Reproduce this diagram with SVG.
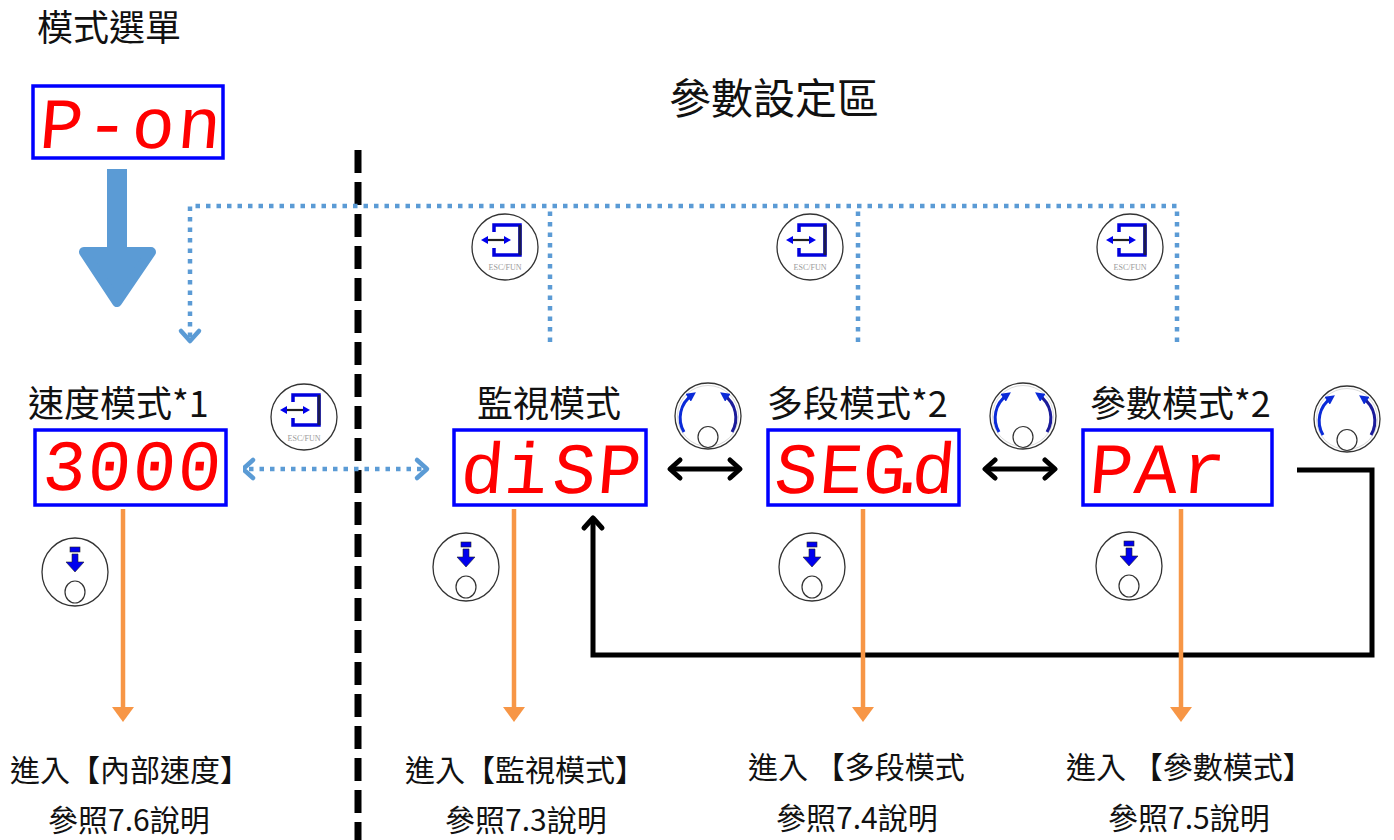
<svg xmlns="http://www.w3.org/2000/svg" width="1394" height="840" viewBox="0 0 1394 840">
<style>
.title{font-family:"Noto Sans CJK TC","Noto Sans CJK SC",sans-serif;fill:#111;}
.lbl{font-family:"Noto Sans CJK TC","Noto Sans CJK SC",sans-serif;font-size:36px;fill:#111;}
.bot{font-family:"Noto Sans CJK TC","Noto Sans CJK SC",sans-serif;font-size:30px;fill:#111;}
.seg{font-family:"Liberation Mono","DejaVu Sans Mono",monospace;font-size:72px;fill:#ff0000;}
.box{fill:#fff;stroke:#0000ff;stroke-width:3.5;}
.back{fill:#fff;}
.dot{fill:none;stroke:#5b9bd5;stroke-width:4.5;stroke-dasharray:4.5 6;}
.chev{fill:none;stroke:#5b9bd5;stroke-width:4.5;stroke-linecap:round;stroke-linejoin:round;}
.org{fill:none;stroke:#f79646;stroke-width:4.5;}
.orgh{fill:#f79646;}
.blk{fill:none;stroke:#000;stroke-width:5;}
.blkh{fill:none;stroke:#000;stroke-width:5;stroke-linecap:round;stroke-linejoin:round;}
.ring{fill:#fff;stroke:#333;stroke-width:1.3;}
.esct{font-family:"Liberation Serif",serif;font-size:8px;fill:#9a9a9a;}
</style>
<defs>
<marker id="bh" viewBox="0 0 10 10" refX="5" refY="5" markerWidth="3.2" markerHeight="3.2" orient="auto">
<path d="M0,0 L10,5 L0,10 Z" fill="#0a2ad8"/>
</marker>
<g id="knob">
<circle r="33" class="ring"/>
<circle r="30.5" fill="none" stroke="#c8c8c8" stroke-width="0.7"/>
<ellipse cy="21" rx="10" ry="10.5" fill="#fff" stroke="#333" stroke-width="1.2"/>
<path d="M-24,16 A28 28 0 0 1 -16,-21" fill="none" stroke="#0a2ad8" stroke-width="3" marker-end="url(#bh)"/>
<path d="M24,16 A28 28 0 0 0 16,-21" fill="none" stroke="#1b1b9a" stroke-width="3" marker-end="url(#bh)"/>
</g>
<g id="push">
<ellipse rx="33" ry="34" class="ring"/>
<rect x="-5" y="-25" width="10" height="5" fill="#0000ee" stroke="#222" stroke-width="0.6"/>
<path d="M-3,-18 H3 V-10 H9 L0,0 L-9,-10 H-3 Z" fill="#0000ee" stroke="#222" stroke-width="0.6"/>
<ellipse cy="20" rx="10" ry="11" fill="#fff" stroke="#333" stroke-width="1.2"/>
</g>
<g id="escgfx">
<circle r="33" class="ring"/>
<path d="M-11,-15 V-22 H15 V8 H-11 V1" fill="none" stroke="#0000dd" stroke-width="3.5"/>
<line x1="15" y1="-22" x2="15" y2="8" stroke="#1a1a50" stroke-width="3"/>
<line x1="-19" y1="-7" x2="1" y2="-7" stroke="#222" stroke-width="2.2"/>
<path d="M-24,-7 L-17,-11 L-17,-3 Z" fill="#0000ee"/>
<path d="M6,-7 L-1,-11 L-1,-3 Z" fill="#0000ee"/>
</g>
</defs>
<rect width="1394" height="840" fill="#fff"/>

<text class="title" x="37" y="41" font-size="36">模式選單</text>
<text class="title" x="669" y="114" font-size="42">參數設定區</text>

<!-- divider -->
<line x1="358" y1="150" x2="358" y2="840" stroke="#000" stroke-width="7" stroke-dasharray="23 9"/>

<g id="connectors">
<rect x="107" y="169" width="20" height="84" fill="#5b9bd5"/>
<polygon points="84,252 151,252 117,302" fill="#5b9bd5" stroke="#5b9bd5" stroke-width="10" stroke-linejoin="round"/>
<path class="dot" d="M1177,342 V206 H190 V338"/>
<path class="dot" d="M550,342 V206"/>
<path class="dot" d="M858,342 V206"/>
<path class="chev" d="M181,331 L190,341 L199,331"/>
<line class="dot" x1="249" y1="469" x2="424" y2="469"/>
<path class="chev" d="M253,460 L243,469 L253,478"/>
<path class="chev" d="M417,460 L427,469 L417,478"/>
<line class="blk" x1="671" y1="469" x2="739" y2="469"/>
<path class="blkh" d="M680,460 L670,469 L680,478 M730,460 L740,469 L730,478"/>
<line class="blk" x1="986" y1="469" x2="1054" y2="469"/>
<path class="blkh" d="M995,460 L985,469 L995,478 M1045,460 L1055,469 L1045,478"/>
<path class="blk" d="M1297,470 H1372 V655 H593 V520"/>
<path class="blkh" d="M584,528 L593,518 L602,528"/>
<line class="org" x1="123" y1="508" x2="123" y2="712"/>
<polygon class="orgh" points="112,707 134,707 123,722"/>
<line class="org" x1="514" y1="508" x2="514" y2="712"/>
<polygon class="orgh" points="503,707 525,707 514,722"/>
<line class="org" x1="863" y1="508" x2="863" y2="712"/>
<polygon class="orgh" points="852,707 874,707 863,722"/>
<line class="org" x1="1181" y1="508" x2="1181" y2="712"/>
<polygon class="orgh" points="1170,707 1192,707 1181,722"/>
</g>

<g id="node-pon">
<rect class="back" x="15" y="82" width="227" height="80"/>
<rect class="box" x="33" y="86" width="190" height="72"/>
<text class="seg" transform="translate(0,148) skewX(-5)" x="38 84 130 176" y="0" font-size="76">P-on</text>
</g>

<g id="node-speed">
<text class="lbl" x="28" y="417">速度模式*1</text>
<rect class="back" x="17" y="425" width="226" height="84"/>
<rect class="box" x="35" y="430" width="191" height="75"/>
<text class="seg" transform="translate(0,490) skewX(-5)" x="41 86 131 176" y="0">3000</text>
<use href="#push" x="75" y="572"/>
<text class="bot" x="10" y="781">進入【內部速度】</text>
<text class="bot" x="48" y="831">參照7.6說明</text>
</g>

<g id="node-esc-mid">
<use href="#escgfx" x="304" y="417"/>
<text class="esct" x="304" y="441" text-anchor="middle">ESC/FUN</text>
</g>

<g id="node-disp">
<text class="lbl" x="549" y="417" text-anchor="middle">監視模式</text>
<rect class="back" x="437" y="425" width="226" height="84"/>
<rect class="box" x="454" y="430" width="192" height="75"/>
<text class="seg" transform="translate(0,493) skewX(-5)" x="459 503 551 596" y="0">diSP</text>
<use href="#push" x="466" y="567"/>
<text class="bot" x="405" y="781">進入【監視模式】</text>
<text class="bot" x="445" y="831">參照7.3說明</text>
</g>

<g id="node-seg">
<text class="lbl" x="767" y="417">多段模式*2</text>
<rect class="back" x="750" y="425" width="226" height="84"/>
<rect class="box" x="768" y="430" width="191" height="75"/>
<text class="seg" transform="translate(0,493) skewX(-5)" x="773 818 861 885 910" y="0">SEG.d</text>
<use href="#push" x="812" y="567"/>
<text class="bot" x="748" y="778">進入 【多段模式</text>
<text class="bot" x="776" y="829">參照7.4說明</text>
</g>

<g id="node-par">
<text class="lbl" x="1090" y="417">參數模式*2</text>
<rect class="back" x="1065" y="425" width="226" height="84"/>
<rect class="box" x="1083" y="430" width="189" height="75"/>
<text class="seg" transform="translate(0,493) skewX(-5)" x="1088 1133 1180" y="0">PAr</text>
<use href="#push" x="1129" y="566"/>
<text class="bot" x="1066" y="778">進入 【參數模式】</text>
<text class="bot" x="1108" y="829">參照7.5說明</text>
</g>

<g id="knobs">
<use href="#knob" x="708" y="416"/>
<use href="#knob" x="1023" y="416"/>
<use href="#knob" x="1347" y="419"/>
</g>

<g id="esc-top-1">
<use href="#escgfx" x="505" y="247"/>
<text class="esct" x="505" y="270" text-anchor="middle">ESC/FUN</text>
</g>
<g id="esc-top-2">
<use href="#escgfx" x="810" y="247"/>
<text class="esct" x="810" y="270" text-anchor="middle">ESC/FUN</text>
</g>
<g id="esc-top-3">
<use href="#escgfx" x="1130" y="247"/>
<text class="esct" x="1130" y="270" text-anchor="middle">ESC/FUN</text>
</g>
</svg>
